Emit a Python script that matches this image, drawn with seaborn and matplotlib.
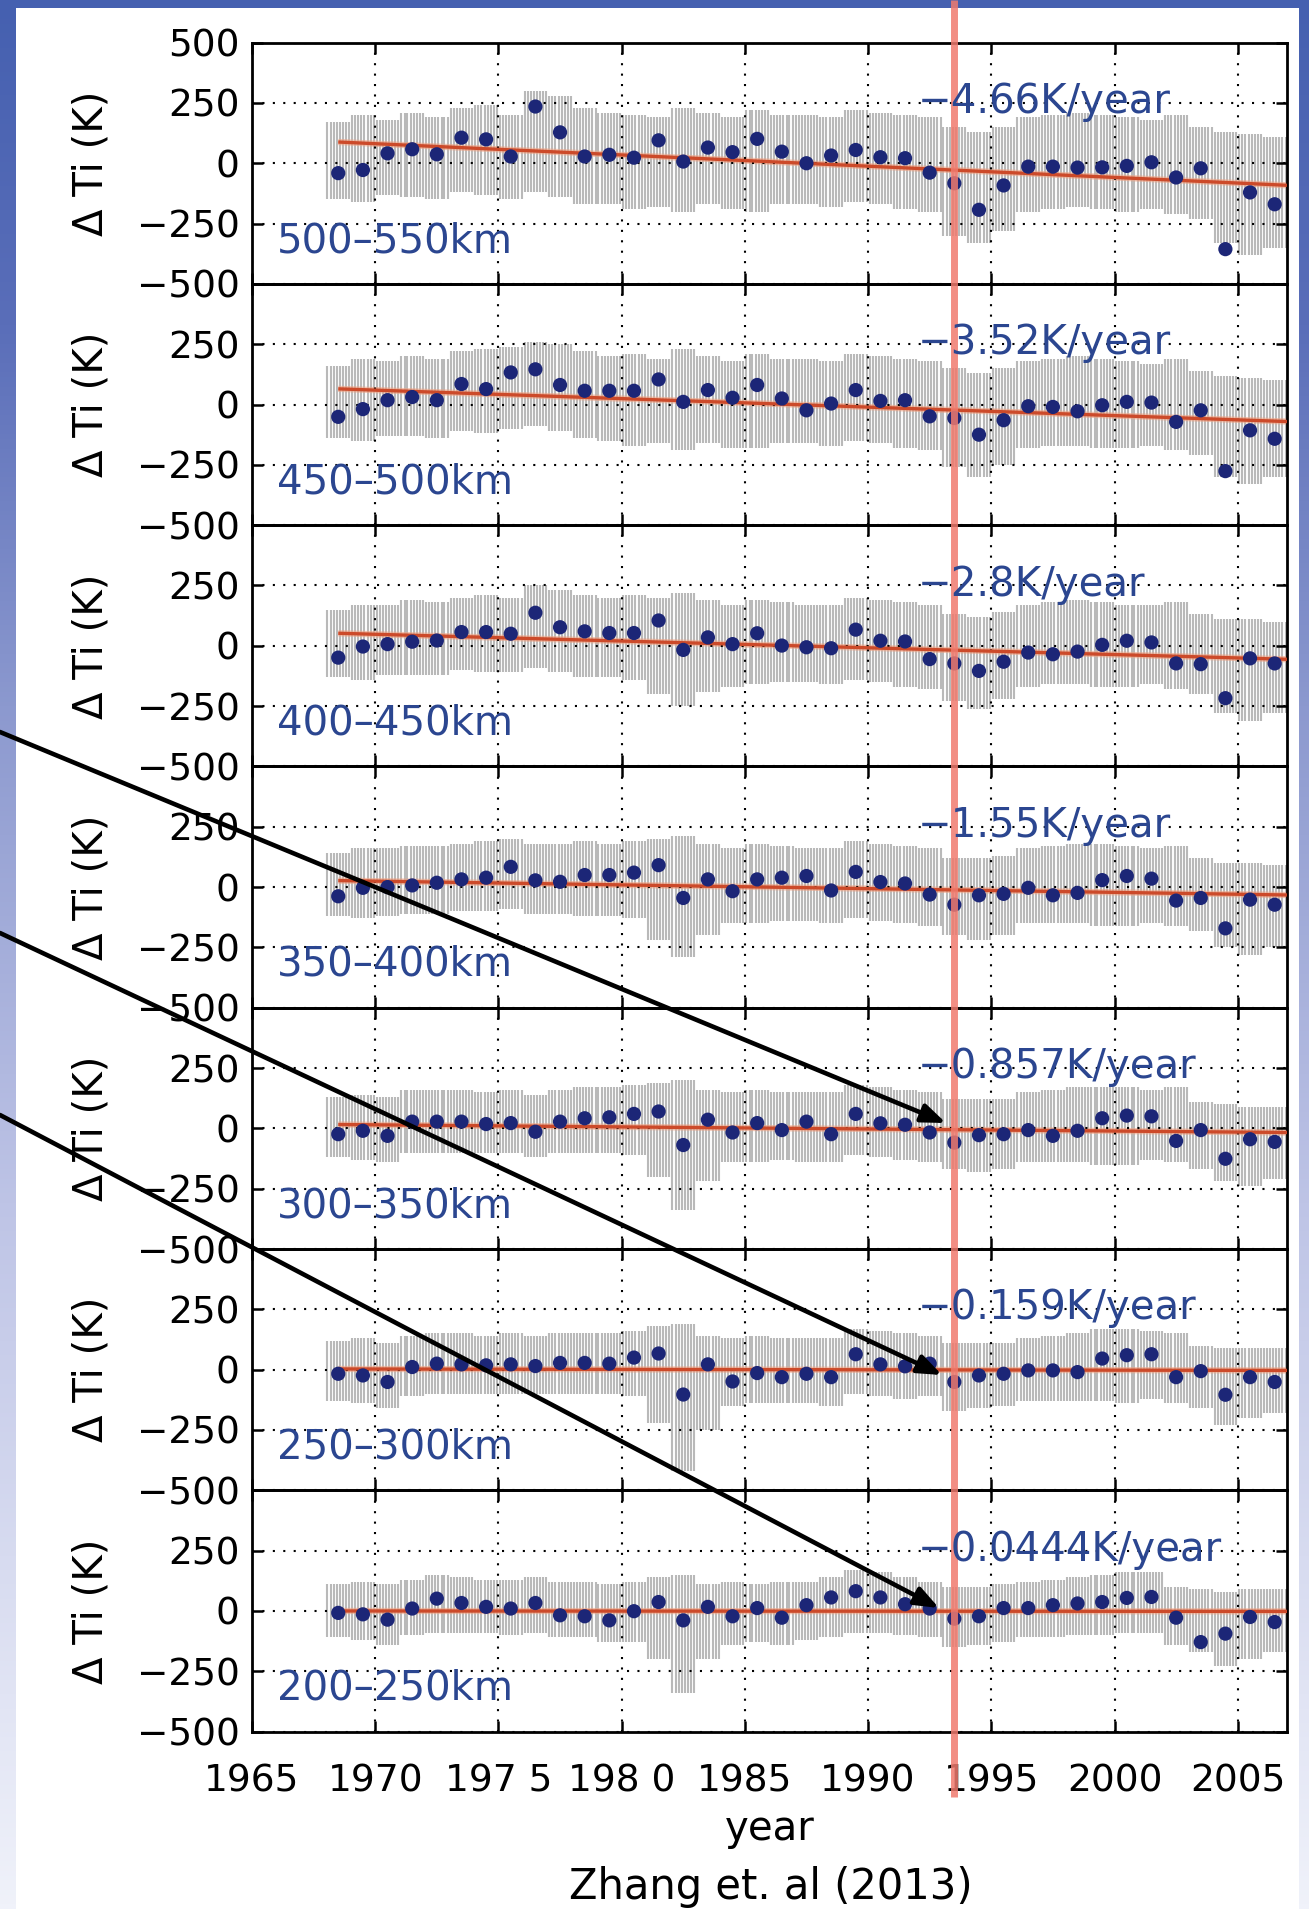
import numpy as np
import matplotlib
matplotlib.use("Agg")
import matplotlib.pyplot as plt
import seaborn as sns
from matplotlib.transforms import blended_transform_factory
from matplotlib.lines import Line2D
from matplotlib.patches import Rectangle, FancyArrowPatch

# ---------------- data ----------------
years = [y + 0.5 for y in range(1968, 2007)]  # annual means 1968.5 .. 2006.5

panel_labels = ["500\u2013550km", "450\u2013500km", "400\u2013450km", "350\u2013400km",
                "300\u2013350km", "250\u2013300km", "200\u2013250km"]
rate_labels = ["\u22124.66K/year", "\u22123.52K/year", "\u22122.8K/year", "\u22121.55K/year",
               "\u22120.857K/year", "\u22120.159K/year", "\u22120.0444K/year"]
slopes = [-4.66, -3.52, -2.8, -1.55, -0.857, -0.159, -0.0444]
trend_start = [88, 65, 52, 27, 16, 3, 0]   # trend value at 1968.5

means_500_550 = [-41, -28, 41, 58, 37, 106, 99, 28, 235, 128, 28, 35, 23, 95, 7, 65,
                 46, 101, 48, 0, 32, 55, 25, 21, -39, -83, -193, -92, -14, -14, -18, -17,
                 -11, 4, -59, -21, -356, -121, -170]
means_450_500 = [-51, -19, 18, 31, 18, 85, 64, 133, 146, 81, 57, 57, 57, 104, 11, 60,
                 28, 81, 25, -24, 4, 60, 15, 18, -49, -56, -125, -65, -7, -10, -28, -3,
                 11, 8, -72, -24, -276, -107, -142]
means_400_450 = [-49, -3, 7, 17, 22, 57, 57, 50, 137, 77, 60, 53, 53, 105, -17, 35,
                 7, 52, 1, -6, -10, 67, 21, 18, -55, -73, -104, -66, -28, -35, -24, 4,
                 21, 14, -73, -76, -217, -52, -73]
means_350_400 = [-38, -3, 0, 7, 18, 32, 39, 84, 28, 22, 50, 50, 60, 91, -45, 32,
                 -17, 32, 39, 46, -14, 63, 21, 15, -31, -73, -34, -28, -3, -34, -24, 29,
                 46, 35, -56, -45, -171, -52, -73]
means_300_350 = [-24, -10, -31, 28, 28, 28, 18, 22, -14, 28, 42, 46, 60, 70, -69, 36,
                 -17, 22, -7, 28, -24, 60, 21, 15, -17, -59, -28, -24, -7, -31, -10, 42,
                 53, 50, -52, -7, -126, -45, -56]
means_250_300 = [-17, -24, -51, 11, 25, 22, 18, 22, 15, 28, 28, 25, 50, 67, -103, 22,
                 -49, -14, -31, -17, -31, 64, 22, 14, 25, -51, -24, -17, -3, -3, -10, 46,
                 60, 64, -31, -6, -104, -31, -51]
means_200_250 = [-8, -14, -36, 10, 51, 33, 17, 10, 33, -18, -22, -39, -1, 37, -39, 17,
                 -22, 12, -28, 24, 56, 82, 56, 28, 10, -32, -22, 12, 12, 24, 31, 37,
                 54, 58, -28, -129, -94, -25, -46]

# upper / lower extent of the raw (gray) data cloud per year
cloud_hi_500_550 = [170, 200, 180, 210, 190, 230, 240, 200, 300, 280, 230, 210, 200, 190, 230, 210,
                    190, 220, 200, 200, 190, 220, 210, 200, 190, 150, 130, 150, 190, 200, 210, 200,
                    190, 180, 200, 150, 130, 120, 110]
cloud_lo_500_550 = [-150, -160, -130, -140, -150, -120, -130, -150, -120, -140, -170, -170, -190, -180, -200, -170,
                    -190, -200, -170, -170, -180, -160, -170, -190, -200, -300, -330, -280, -200, -190, -180, -190,
                    -200, -190, -210, -230, -330, -380, -350]
cloud_hi_450_500 = [160, 190, 180, 200, 190, 220, 230, 240, 260, 250, 220, 200, 210, 190, 230, 200,
                    180, 210, 190, 190, 180, 210, 200, 190, 180, 150, 130, 150, 180, 190, 200, 190,
                    180, 170, 190, 140, 120, 110, 100]
cloud_lo_450_500 = [-140, -150, -130, -130, -140, -110, -120, -100, -90, -110, -140, -150, -170, -160, -190, -160,
                    -180, -180, -160, -160, -170, -150, -160, -180, -190, -260, -300, -250, -180, -170, -170, -180,
                    -180, -170, -190, -210, -300, -330, -300]
cloud_hi_400_450 = [150, 170, 170, 190, 180, 200, 210, 200, 250, 230, 210, 200, 210, 200, 220, 190,
                    170, 190, 180, 170, 170, 200, 190, 180, 170, 130, 120, 140, 170, 180, 190, 180,
                    170, 170, 180, 130, 110, 110, 100]
cloud_lo_400_450 = [-130, -140, -120, -120, -120, -100, -110, -110, -90, -110, -130, -130, -140, -200, -250, -190,
                    -170, -160, -150, -150, -160, -140, -150, -170, -180, -230, -260, -220, -170, -160, -160, -170,
                    -170, -160, -180, -200, -280, -310, -280]
cloud_hi_350_400 = [140, 160, 160, 170, 170, 180, 190, 200, 180, 180, 190, 180, 190, 200, 210, 180,
                    160, 180, 170, 160, 160, 190, 180, 170, 160, 120, 120, 130, 160, 170, 180, 180,
                    170, 160, 170, 120, 100, 100, 90]
cloud_lo_350_400 = [-120, -130, -120, -110, -110, -100, -100, -90, -110, -110, -120, -120, -130, -220, -290, -200,
                    -150, -150, -140, -140, -150, -130, -140, -150, -160, -200, -220, -200, -150, -150, -150, -160,
                    -160, -150, -160, -180, -250, -280, -250]
cloud_hi_300_350 = [130, 140, 130, 160, 160, 160, 150, 160, 140, 160, 170, 170, 180, 190, 200, 160,
                    150, 160, 150, 150, 150, 180, 170, 160, 150, 120, 120, 120, 150, 160, 170, 170,
                    170, 160, 170, 110, 100, 90, 90]
cloud_lo_300_350 = [-120, -130, -140, -100, -100, -100, -100, -100, -120, -100, -100, -100, -110, -200, -340, -220,
                    -140, -140, -130, -140, -140, -110, -120, -130, -140, -170, -180, -170, -140, -140, -140, -150,
                    -150, -130, -140, -170, -220, -240, -210]
cloud_hi_250_300 = [120, 130, 110, 140, 150, 150, 140, 150, 140, 150, 150, 150, 160, 180, 190, 140,
                    130, 140, 130, 130, 130, 170, 160, 150, 140, 110, 110, 110, 130, 140, 150, 170,
                    170, 160, 150, 100, 90, 90, 90]
cloud_lo_250_300 = [-130, -140, -160, -110, -100, -100, -100, -100, -100, -100, -100, -100, -110, -220, -420, -250,
                    -150, -140, -140, -140, -150, -100, -110, -120, -110, -170, -160, -150, -130, -130, -130, -130,
                    -140, -120, -140, -160, -230, -200, -180]
cloud_hi_200_250 = [110, 120, 110, 130, 150, 140, 130, 130, 140, 120, 120, 110, 120, 140, 150, 110,
                    120, 110, 120, 120, 140, 170, 160, 140, 120, 100, 100, 110, 120, 130, 140, 150,
                    160, 160, 100, 90, 80, 90, 90]
cloud_lo_200_250 = [-110, -120, -140, -100, -90, -90, -90, -100, -90, -110, -110, -130, -130, -200, -340, -200,
                    -140, -130, -140, -120, -110, -90, -90, -100, -110, -150, -140, -130, -110, -110, -100, -100,
                    -90, -90, -140, -170, -230, -200, -170]

panel_means = [means_500_550, means_450_500, means_400_450, means_350_400,
               means_300_350, means_250_300, means_200_250]
panel_hi = [cloud_hi_500_550, cloud_hi_450_500, cloud_hi_400_450, cloud_hi_350_400,
            cloud_hi_300_350, cloud_hi_250_300, cloud_hi_200_250]
panel_lo = [cloud_lo_500_550, cloud_lo_450_500, cloud_lo_400_450, cloud_lo_350_400,
            cloud_lo_300_350, cloud_lo_250_300, cloud_lo_200_250]

x_ticks = [1965, 1970, 1975, 1980, 1985, 1990, 1995, 2000, 2005]
x_ticklabels = ["1965", "1970", "197 5", "198 0", "1985", "1990", "1995", "2000", "2005"]
y_ticks = [-500, -250, 0, 250, 500]
y_ticklabels = ["\u2212500", "\u2212250", "0", "250", "500"]
marker_year = 1993.5
trend_end_year = 2007.0

# ---------------- style ----------------
sns.set_theme(style="white")
plt.rcParams['font.family'] = ['DejaVu Sans']

W, H, DPI = 1309, 1909, 100
fig = plt.figure(figsize=(W / DPI, H / DPI), dpi=DPI)
fig.patch.set_facecolor("white")

# slide background: blue gradient with white picture area
bg = fig.add_axes([0, 0, 1, 1], zorder=-10)
stops = np.array([0.0, 0.17, 0.37, 0.63, 1.0])
cols = np.array([[69, 96, 176], [90, 110, 185], [140, 153, 207], [190, 196, 230], [240, 242, 250]]) / 255
tt = np.linspace(0, 1, 400)
grad = np.stack([np.interp(tt, stops, cols[:, c]) for c in range(3)], axis=1)
bg.imshow(grad[:, None, :], aspect="auto", extent=[0, 1, 0, 1], origin="upper")
bg.add_patch(Rectangle((16 / W, 0), (1299 - 16) / W, (H - 8) / H, transform=bg.transAxes,
                       facecolor="white", edgecolor="none", zorder=2))
bg.set_xlim(0, 1); bg.set_ylim(0, 1); bg.axis("off")

left, right = 252 / W, 1287 / W
top, bottom = 1 - 42.6 / H, 1 - 1731.6 / H
axes = fig.subplots(7, 1, sharex=True, gridspec_kw=dict(hspace=0))
fig.subplots_adjust(left=left, right=right, top=top, bottom=bottom, hspace=0)

dot_color = "#1c2677"
text_blue = "#2b4690"
trend_color = "#cc4a2a"
offsets = [-0.44, -0.31, -0.19, -0.06, 0.06, 0.19, 0.31, 0.44]

for i, ax in enumerate(axes):
    ax.set_facecolor("none")
    # gray raw-data cloud
    xs, los, his = [], [], []
    for yr, lo, hi in zip(years, panel_lo[i], panel_hi[i]):
        for o in offsets:
            xs.append(yr + o); los.append(lo); his.append(hi)
    ax.vlines(xs, los, his, color="#b9b9b9", lw=1.5, zorder=1)
    # trend line
    y0 = trend_start[i]
    y1 = y0 + slopes[i] * (trend_end_year - years[0])
    ax.plot([years[0], trend_end_year], [y0, y1], color="#f0a080", lw=4.5, alpha=0.6,
            zorder=2, solid_capstyle="butt")
    ax.plot([years[0], trend_end_year], [y0, y1], color=trend_color, lw=2.4, zorder=3,
            solid_capstyle="butt")
    # annual means
    sns.scatterplot(x=years, y=panel_means[i], ax=ax, s=105, color=dot_color,
                    edgecolor="none", zorder=4, legend=False)
    ax.set_xlim(1965, 2007)
    ax.set_ylim(-500, 500)
    ax.set_yticks(y_ticks)
    labs = list(y_ticklabels)
    if i > 0:
        labs[-1] = ""
    ax.set_yticklabels(labs)
    ax.set_xticks(x_ticks)
    ax.grid(True, color="black", linestyle=(0, (1, 4)), lw=1.5)
    ax.set_axisbelow(False)
    for sp in ax.spines.values():
        sp.set_color("black"); sp.set_linewidth(2.0); sp.set_visible(True)
    ax.tick_params(axis="both", direction="in", length=8, width=1.8, color="black",
                   top=True, right=True, bottom=True, left=True, labelsize=27,
                   labelcolor="black")
    ax.tick_params(axis="y", pad=9)
    ax.tick_params(axis="x", pad=23)
    # labels drawn at figure level so they sit above the vertical marker line
    fig.text(1992.0, 208, rate_labels[i], color=text_blue, fontsize=29,
             ha="left", va="baseline", zorder=9, transform=ax.transData)
    ax.text(1966.0, -368, panel_labels[i], color=text_blue, fontsize=29,
            ha="left", va="baseline", zorder=5)
    ax.set_xlabel(""); ax.set_ylabel("")
    # y-axis title
    cy = 42.6 + 241.3 * (i + 0.5)
    fig.text(91 / W, 1 - cy / H, "\u0394 Ti (K)", rotation=90, ha="center", va="center",
             fontsize=29, color="black")

axes[-1].set_xticklabels(x_ticklabels)

fig.text(770 / W, 1 - 1840 / H, "year", ha="center", va="baseline", fontsize=29, color="black")
fig.text(771 / W, 1 - 1899 / H, "Zhang et. al (2013)", ha="center", va="baseline",
         fontsize=30, color="black")

# arrows (figure pixel positions)
arrows = [((0, 732), (946, 1123)), ((0, 933), (942, 1375)), ((0, 1115), (939, 1608))]
for (xa, ya), (xb, yb) in arrows:
    arr = FancyArrowPatch((xa / DPI, (H - ya) / DPI), (xb / DPI, (H - yb) / DPI),
                          transform=fig.dpi_scale_trans,
                          arrowstyle="-|>,head_length=0.9,head_width=0.35",
                          mutation_scale=16, lw=3.3, color="black",
                          shrinkA=0, shrinkB=0, zorder=6)
    fig.add_artist(arr)

# vertical marker line at 1993.5 across the whole figure
trans = blended_transform_factory(axes[0].transData, fig.transFigure)
vline = Line2D([marker_year, marker_year], [1 - 1797 / H, 1.0], transform=trans,
               color="#f07a6e", lw=5, alpha=0.85, zorder=7, solid_capstyle="butt")
fig.add_artist(vline)

fig.savefig("out.png", dpi=DPI)
